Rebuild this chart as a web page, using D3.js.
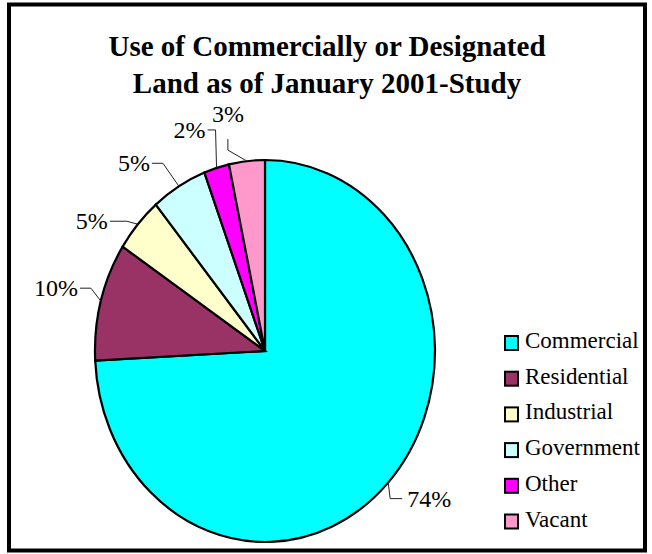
<!DOCTYPE html>
<html>
<head>
<meta charset="utf-8">
<script src="https://cdn.jsdelivr.net/npm/d3@7"></script>
<style>
    svg text { font-family: "Times New Roman", "Liberation Serif", Tinos, serif !important; }
</style>
</head>
<body style="margin:0">
<div id="chart"></div>
<script>
var width = 652;
var height = 554;
var fontFam = "Times New Roman";

// data
var categories = ["Commercial", "Residential", "Industrial", "Government", "Other", "Vacant"];
var shares = [74.2, 10.0, 4.7, 5.3, 2.4, 3.4];
var pctLabels = ["74%", "10%", "5%", "5%", "2%", "3%"];
var colors = ["#00ffff", "#993366", "#ffffcc", "#ccffff", "#ff00ff", "#ff99cc"];
var titleLines = ["Use of Commercially or Designated", "Land as of January 2001-Study"];

// where each dragged label sits, relative to its slice edge: elbow corner + stub direction
var labelNudge = [
    { dx: 2, dy: 16, sx: 12, sy: 0 },
    { dx: -10, dy: -13, sx: -11, sy: 0 },
    { dx: -11, dy: -3, sx: -17, sy: 0 },
    { dx: -16, dy: -23, sx: -11, sy: 0 },
    { dx: -1, dy: -38, sx: -8, sy: 0 },
    { dx: -19, dy: -11, sx: 0, sy: -11 }
];

var cx = 265, cy = 351, rx = 170, ry = 191;

var svg = d3.select("#chart").append("svg")
    .attr("width", width)
    .attr("height", height)
    .attr("font-family", fontFam)
    .style("display", "block");

svg.append("rect")
    .attr("x", 9)
    .attr("y", 4.5)
    .attr("width", 636)
    .attr("height", 546)
    .style("fill", "#fff")
    .style("stroke", "#000")
    .style("stroke-width", 4);

svg.selectAll(".title")
    .data(titleLines)
    .enter().append("text")
    .attr("class", "title")
    .attr("x", 327)
    .attr("y", function(d, i) { return 56 + i * 37; })
    .attr("text-anchor", "middle")
    .style("font-size", "29px")
    .style("font-weight", "bold")
    .text(function(d) { return d; });

var pieData = d3.pie().sort(null).value(function(d) { return d; })(shares);

var arc = d3.arc().innerRadius(0).outerRadius(ry);

// pie is drawn as a circle then squeezed into the ellipse of the picture
var pieG = svg.append("g")
    .attr("transform", "translate(" + cx + "," + cy + ") scale(" + (rx / ry) + ",1)");

pieG.selectAll(".slice")
    .data(pieData)
    .enter().append("path")
    .attr("class", "slice")
    .attr("d", arc)
    .style("fill", function(d, i) { return colors[i]; })
    .style("stroke", "#000")
    .style("stroke-width", 2.2)
    .attr("vector-effect", "non-scaling-stroke");

function edgePoint(d) {
    var a = (d.startAngle + d.endAngle) / 2;
    return [cx + rx * Math.sin(a), cy - ry * Math.cos(a)];
}

pieData.forEach(function(d, i) {
    var e = edgePoint(d);
    var n = labelNudge[i];
    var k = [e[0] + n.dx, e[1] + n.dy];
    var t = [k[0] + n.sx, k[1] + n.sy];

    svg.append("path")
        .attr("d", d3.line()([e, k, t]))
        .style("fill", "none")
        .style("stroke", "#222")
        .style("stroke-width", 1);

    var label = svg.append("text")
        .style("font-size", "24px")
        .text(pctLabels[i]);

    if (n.sy < 0) {
        label.attr("x", t[0]).attr("y", t[1] - 17).attr("text-anchor", "middle");
    } else if (n.sx > 0) {
        label.attr("x", t[0] + 5).attr("y", t[1] + 8).attr("text-anchor", "start");
    } else {
        label.attr("x", t[0] - 2).attr("y", t[1] + 8).attr("text-anchor", "end");
    }
});

// legend
var legend = svg.selectAll(".legend")
    .data(categories)
    .enter().append("g")
    .attr("class", "legend")
    .attr("transform", function(d, i) { return "translate(505," + (348 + i * 35.7) + ")"; });

legend.append("rect")
    .attr("x", 0)
    .attr("y", -12)
    .attr("width", 13)
    .attr("height", 14)
    .style("fill", function(d, i) { return colors[i]; })
    .style("stroke", "#000")
    .style("stroke-width", 2);

legend.append("text")
    .attr("x", 20)
    .attr("y", 0)
    .style("font-size", "23px")
    .text(function(d) { return d; });
</script>
</body>
</html>
